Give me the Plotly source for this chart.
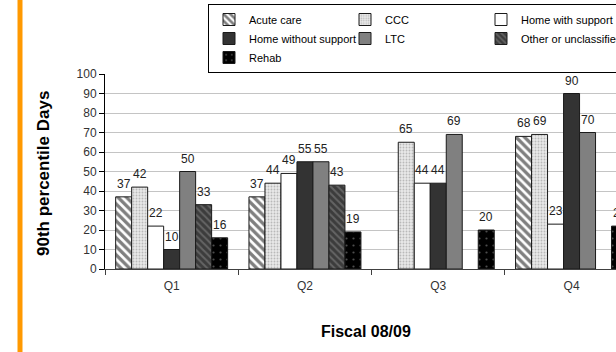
import plotly.graph_objects as go

# Quarterly 90th percentile length of stay (days), by discharge destination
quarters = ["Q1", "Q2", "Q3", "Q4"]
acute_care = [37, 37, None, 68]
ccc = [42, 44, 65, 69]
home_with_support = [22, 49, 44, 23]
home_without_support = [10, 55, 44, 90]
ltc = [50, 55, 69, 70]
other_unclassified = [33, 43, None, None]
rehab = [16, 19, 20, 22]
y_ticks = [0, 10, 20, 30, 40, 50, 60, 70, 80, 90, 100]

FONT = "Liberation Sans, Arial, sans-serif"
W, H = 616, 352
M_L, M_R, M_T, M_B = 105, 0, 74, 83
PW, PH = W - M_L - M_R, H - M_T - M_B
BARGAP = 0.16
X_RANGE = [-0.5, -0.5 + PW / 133.3]  # last group runs past the right edge


def px_x(px):
    return (px - M_L) / PW


def px_y(py):
    return (H - M_B - py) / PH


def cat_to_paper(xc):
    return (xc - X_RANGE[0]) / (X_RANGE[1] - X_RANGE[0])


series = [
    ("Acute care", acute_care,
     dict(color="white", pattern=dict(shape="\\", fgcolor="black", bgcolor="white", size=6, solidity=0.55))),
    ("CCC", ccc,
     dict(color="#e4e4e4", pattern=dict(shape=".", fgcolor="#8a8a8a", bgcolor="#e8e8e8", size=3, solidity=0.3))),
    ("Home with support", home_with_support, dict(color="white")),
    ("Home without support", home_without_support, dict(color="#333333")),
    ("LTC", ltc, dict(color="#808080")),
    ("Other or unclassified", other_unclassified,
     dict(color="#3c3c3c", pattern=dict(shape="\\", fgcolor="#8c8c8c", bgcolor="#3c3c3c", size=5, solidity=0.4))),
    ("Rehab", rehab,
     dict(color="black", pattern=dict(shape=".", fgcolor="#9a9a9a", bgcolor="black", size=7, solidity=0.08))),
]

n = len(series)
bar_w = (1 - BARGAP) / n  # width of one bar in category units

fig = go.Figure()
value_labels = []
for i, (name, vals, marker) in enumerate(series):
    marker = dict(marker)
    marker["line"] = dict(color="#1a1a1a", width=1)
    fig.add_trace(go.Bar(name=name, x=quarters, y=vals, marker=marker, hoverinfo="skip"))
    # value label above each bar, centred on the bar's slot within the group
    offset = -(1 - BARGAP) / 2 + bar_w * (i + 0.5)
    for j, v in enumerate(vals):
        if v is None:
            continue
        value_labels.append(dict(
            text=str(v), xref="paper", yref="y", x=cat_to_paper(j + offset), y=v,
            xanchor="center", yanchor="bottom", yshift=4, showarrow=False,
            font=dict(family=FONT, size=12, color="#222222"),
        ))

fig.update_layout(
    width=W, height=H,
    margin=dict(l=M_L, r=M_R, t=M_T, b=M_B, autoexpand=False),
    paper_bgcolor="white", plot_bgcolor="white",
    barmode="group", bargap=BARGAP, bargroupgap=0,
    font=dict(family=FONT, size=12, color="#222222"),
    legend=dict(
        orientation="h", x=px_x(208), y=px_y(4), xanchor="left", yanchor="top",
        bgcolor="white", bordercolor="black", borderwidth=1,
        entrywidth=91, entrywidthmode="pixels",
        font=dict(family=FONT, size=11, color="black"),
        traceorder="normal",
    ),
    xaxis=dict(
        range=X_RANGE, type="category",
        showline=True, linecolor="#404040", linewidth=1,
        ticks="outside", ticklen=5, tickcolor="#404040", tickson="boundaries",
        tickfont=dict(family=FONT, size=12, color="#333333"),
        ticklabelstandoff=6,
        showgrid=False, zeroline=False, automargin=False,
    ),
    yaxis=dict(
        range=[0, 100], tickvals=y_ticks,
        showline=True, linecolor="black", linewidth=1,
        ticks="outside", ticklen=5, tickcolor="black",
        tickfont=dict(family=FONT, size=12, color="#333333"),
        showgrid=True, gridcolor="#c4c4c4", gridwidth=1,
        zeroline=False, automargin=False,
    ),
    annotations=value_labels + [
        dict(text="<b>90th percentile Days</b>", xref="paper", yref="paper",
             x=px_x(43), y=px_y(174), textangle=-90, showarrow=False,
             xanchor="center", yanchor="middle",
             font=dict(family=FONT, size=17, color="black")),
        dict(text="<b>Fiscal 08/09</b>", xref="paper", yref="paper",
             x=px_x(366), y=px_y(331), showarrow=False,
             xanchor="center", yanchor="middle",
             font=dict(family=FONT, size=16, color="black")),
    ],
    shapes=[
        dict(type="rect", xref="paper", yref="paper",
             x0=px_x(17.5), x1=px_x(22.5), y0=px_y(H), y1=px_y(0),
             fillcolor="#FF9900", line=dict(width=0), layer="above"),
    ],
)

fig.write_html("out.html")
